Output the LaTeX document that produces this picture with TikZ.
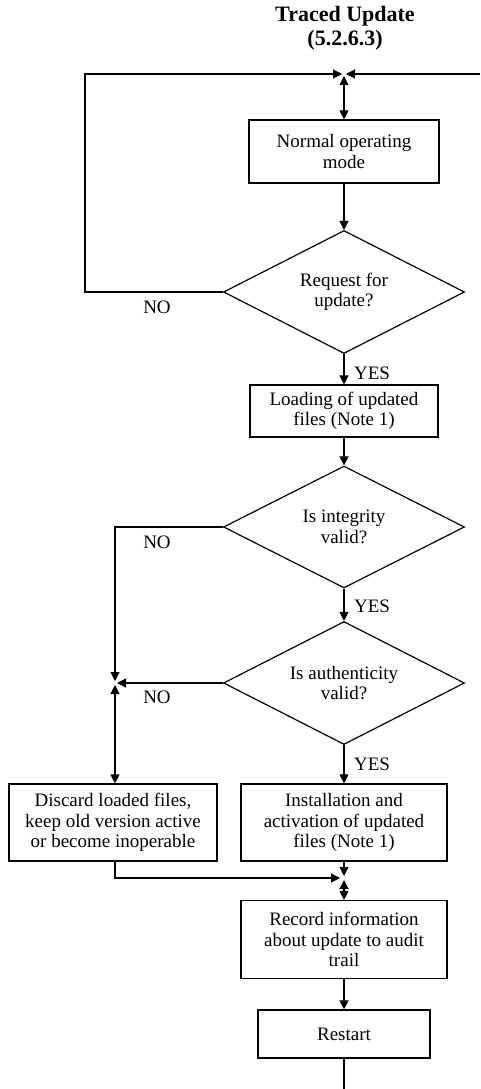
\documentclass[tikz,border=0pt]{standalone}
\usepackage{fontspec}
\setmainfont{Liberation Serif}
\usetikzlibrary{arrows.meta,shapes.geometric}
\begin{document}
\begin{tikzpicture}[x=1pt,y=-1pt,
  every node/.style={font=\fontsize{19}{20.5}\selectfont, align=center, inner sep=0pt},
  box/.style={draw, line width=1.2pt, rectangle},
  dec/.style={draw, line width=1.2pt, diamond, aspect=2},
  lbl/.style={font=\fontsize{19}{20.5}\selectfont},
  ttl/.style={font=\fontsize{22}{24}\selectfont\bfseries},
  arr/.style={line width=1.2pt, -{Triangle[length=9pt,width=9pt]}},
  darr/.style={line width=1.2pt, {Triangle[length=9pt,width=9pt]}-{Triangle[length=9pt,width=9pt]}},
  ln/.style={line width=1.2pt}]
\useasboundingbox (0,0) rectangle (480,1089);
\node[ttl] (title) at (345,28) {Traced Update\\ (5.2.6.3)};
\node[box, minimum width=190pt, minimum height=63pt] (n1) at (344,151.5) {Normal operating\\ mode};
\node[dec, minimum width=241pt, minimum height=123pt] (d1) at (344,292) {Request for\\ update?};
\node[box, minimum width=188pt, minimum height=52pt] (load) at (344,411) {Loading of updated\\ files (Note 1)};
\node[dec, minimum width=241pt, minimum height=122pt] (d2) at (344,527) {Is integrity\\ valid?};
\node[dec, minimum width=241pt, minimum height=123pt] (d3) at (344,683) {Is authenticity\\ valid?};
\node[box, minimum width=208pt, minimum height=77pt] (discard) at (113,822.5) {Discard loaded files,\\ keep old version active\\ or become inoperable};
\node[box, minimum width=206pt, minimum height=77pt] (install) at (344,822.5) {Installation and\\ activation of updated\\ files (Note 1)};
\node[box, minimum width=206pt, minimum height=78pt] (record) at (344,939.5) {Record information\\ about update to audit\\ trail};
\node[box, minimum width=172pt, minimum height=48pt] (restart) at (344,1034) {Restart};

\coordinate (j1) at (344,74);
\coordinate (c1) at (85,74);
\coordinate (rin) at (480,74);
\coordinate (j2) at (115,683);
\coordinate (j3) at (344,878);
\coordinate (bot) at (344,1089);

% top junction
\draw[arr, shorten >=2pt] (d1.west) -| (c1) -- (j1);
\draw[arr, shorten >=2pt] (rin) -- (j1);
\draw[darr, shorten <=2pt] (j1) -- (n1.north);
\draw[arr] (n1) -- (d1);
\draw[arr] (d1) -- (load);
\draw[arr] (load) -- (d2);
\draw[arr] (d2) -- (d3);
% NO branches
\draw[arr, shorten >=2pt] (d2.west) -| (j2);
\draw[arr, shorten >=2pt] (d3.west) -- (j2);
\draw[darr, shorten <=2pt] (j2) -- (j2 |- discard.north);
\draw[arr] (d3) -- (install);
% bottom junction
\draw[arr, shorten >=2pt] (install) -- (j3);
\draw[arr, shorten >=4pt] (j2 |- discard.south) |- (j3);
\draw[darr, shorten <=2pt] (j3) -- (record.north);
\draw[arr] (record) -- (restart);
\draw[ln] (restart.south) -- (bot);

% labels
\node[lbl] (no1) at (157,307) {NO};
\node[lbl] (no2) at (157,542) {NO};
\node[lbl] (no3) at (157,697) {NO};
\node[lbl] (yes1) at (372,373) {YES};
\node[lbl] (yes2) at (372,606) {YES};
\node[lbl] (yes3) at (372,764) {YES};
\end{tikzpicture}
\end{document}
